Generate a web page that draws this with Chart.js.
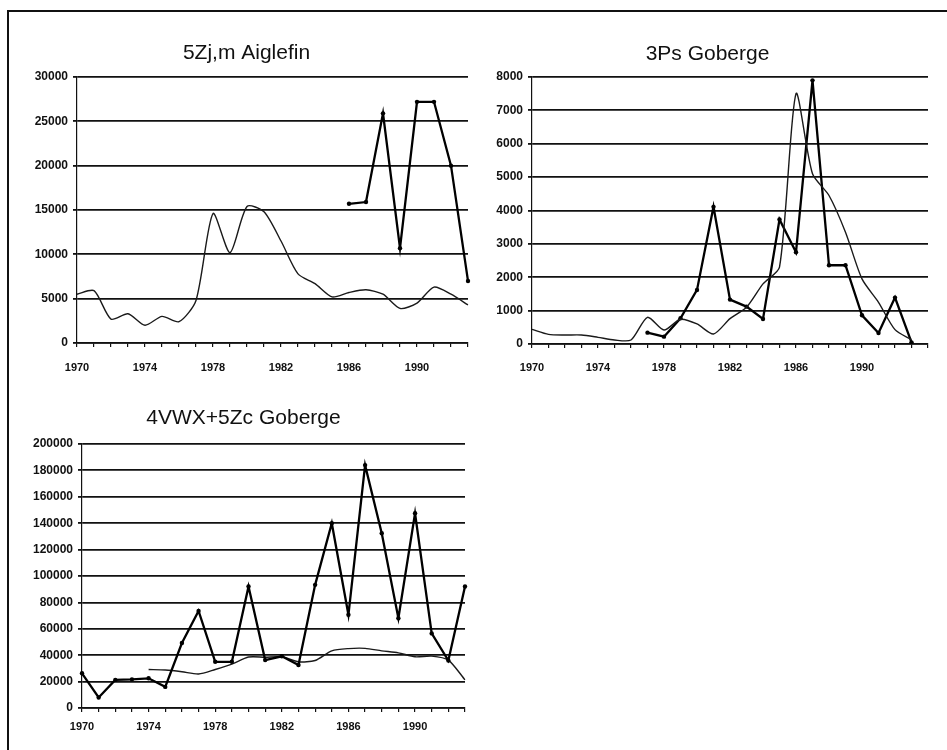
<!DOCTYPE html>
<html><head><meta charset="utf-8">
<script src="https://cdn.jsdelivr.net/npm/chart.js@4/dist/chart.umd.min.js"></script>
<style>
html,body{margin:0;padding:0;background:#fff;}
body{width:947px;height:750px;position:relative;overflow:hidden;}
#frame{position:absolute;left:7px;top:10px;width:945px;height:745px;border-top:2px solid #111;border-left:2px solid #111;}
canvas{position:absolute;}
</style></head><body>
<div id="frame"></div>
<canvas id="c1" width="460" height="360" style="left:25px;top:30px"></canvas>
<canvas id="c2" width="460" height="360" style="left:487px;top:30px"></canvas>
<canvas id="c3" width="460" height="350" style="left:22px;top:397px"></canvas>
<script>
// ---- Data ----
const years1970to1993 = ['1970','1971','1972','1973','1974','1975','1976','1977','1978','1979','1980','1981','1982','1983','1984','1985','1986','1987','1988','1989','1990','1991','1992','1993'];
const years1970to1994 = ['1970','1971','1972','1973','1974','1975','1976','1977','1978','1979','1980','1981','1982','1983','1984','1985','1986','1987','1988','1989','1990','1991','1992','1993','1994'];

const title1 = '5Zj,m Aiglefin';
const aiglefinThin  = [5500,5900,2700,3300,2000,3000,2400,4800,14600,10200,15400,14800,11500,7800,6700,5200,5700,6000,5500,3900,4500,6300,5500,4300];
const aiglefinThick = [null,null,null,null,null,null,null,null,null,null,null,null,null,null,null,null,15700,15900,25900,10700,27200,27200,20000,7000];

const title2 = '3Ps Goberge';
const goberge3PsThin  = [440,290,270,270,200,120,120,800,420,740,600,300,760,1100,1800,2300,7500,5100,4450,3350,1950,1250,430,130,null];
const goberge3PsThick = [null,null,null,null,null,null,null,340,220,770,1620,4110,1330,1120,750,3730,2750,7900,2360,2360,860,330,1390,50,null];

const title3 = '4VWX+5Zc Goberge';
const goberge4VWXThick = [26300,8000,21300,21700,22500,16000,49200,73500,35000,35000,92000,36300,39200,32600,93300,140000,70600,184000,132400,68000,147500,56500,36000,92000];
const goberge4VWXThin  = [null,null,null,null,29200,28800,27500,25800,29200,33200,38600,38500,38800,35000,36000,43300,45000,45200,43300,41800,38800,39300,36300,21300];

const yMax1 = 30000, yStep1 = 5000;
const yMax2 = 8000,  yStep2 = 1000;
const yMax3 = 200000, yStep3 = 20000;

// ---- Rendering ----
const FONT = "'Liberation Sans', Arial, sans-serif";
function thin(data){ return {data, borderColor:'#1a1a1a', borderWidth:1.4, pointRadius:0, tension:0.25, spanGaps:false}; }
function thick(data){ return {data, borderColor:'#000', borderWidth:2.3, pointRadius:2.2, pointBackgroundColor:'#000', pointBorderWidth:0, tension:0, spanGaps:false}; }

function makeChart(id, labels, datasets, title, yMax, yStep, g){
  new Chart(document.getElementById(id), {
    type:'line',
    data:{labels, datasets},
    options:{
      responsive:false, animation:false, devicePixelRatio:1,
      layout:{padding:{left:0, top:0, bottom:0, right:g.padRight}},
      plugins:{
        legend:{display:false}, tooltip:{enabled:false},
        title:{display:true, text:title, color:'#111',
          font:{family:FONT, size:21, weight:'normal', lineHeight:1.2},
          padding:{top:g.tTop, bottom:g.tBottom}}
      },
      scales:{
        x:{
          type:'category', offset:false,
          grid:{drawOnChartArea:false, drawTicks:true, tickLength:4, color:'#111', lineWidth:1.2},
          border:{display:true, color:'#111', width:1.6},
          ticks:{autoSkip:false, maxRotation:0, minRotation:0, padding:g.xPad, color:'#111',
            font:{family:FONT, size:11, weight:'bold'},
            callback:(v,i)=> (i%4===0 && i<=20) ? labels[i] : ''},
          afterFit:s=>{ s.height = g.xH; }
        },
        y:{
          min:0, max:yMax,
          grid:{color:'#111', lineWidth:1.8, tickLength:4, drawTicks:true},
          border:{display:true, color:'#111', width:1.2},
          ticks:{stepSize:yStep, padding:5, color:'#111',
            font:{family:FONT, size:12, weight:'bold'},
            callback:v=>String(v)},
          afterFit:s=>{ s.width = g.yW; }
        }
      }
    }
  });
}

makeChart('c1', years1970to1993, [thin(aiglefinThin), thick(aiglefinThick)], title1, yMax1, yStep1,
  {padRight:17, tTop:10.4, tBottom:11.4, xH:47, xPad:14, yW:52});
makeChart('c2', years1970to1994, [thin(goberge3PsThin), thick(goberge3PsThick)], title2, yMax2, yStep2,
  {padRight:19, tTop:11.4, tBottom:10.4, xH:46, xPad:13, yW:45});
makeChart('c3', years1970to1993, [thick(goberge4VWXThick), thin(goberge4VWXThin)], title3, yMax3, yStep3,
  {padRight:17, tTop:8.4, tBottom:13.4, xH:39, xPad:8, yW:60});
</script>
</body></html>
